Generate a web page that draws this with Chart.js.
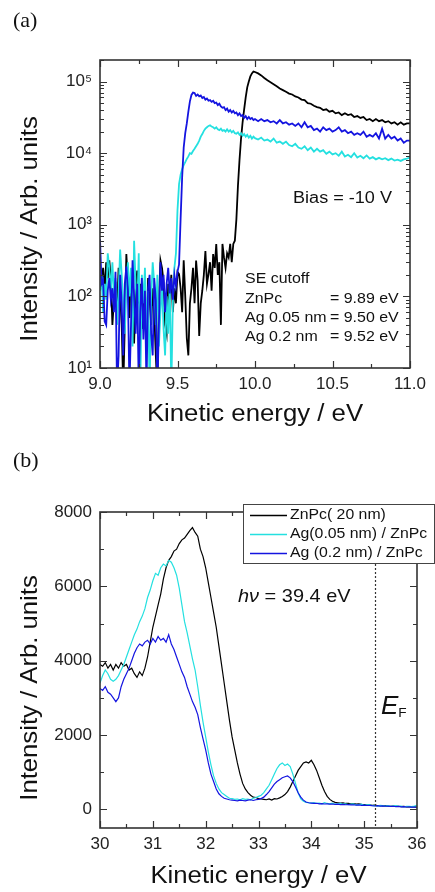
<!DOCTYPE html>
<html>
<head>
<meta charset="utf-8">
<script src="https://cdn.jsdelivr.net/npm/chart.js@4.4.1/dist/chart.umd.min.js"></script>
<style>
  body { margin: 0; background: #fff; }
  #wrap { position: relative; width: 435px; height: 892px; }
  canvas { position: absolute; left: 0; }
  #chartA { top: 0; }
  #chartB { top: 440px; }
</style>
</head>
<body>
<div id="wrap">
  <canvas id="chartA" width="435" height="440"></canvas>
  <canvas id="chartB" width="435" height="452"></canvas>
</div>
<script>
// ---- panel (a): SE cutoff, log intensity ----
var energyA = [
  9.00, 9.01, 9.02, 9.03, 9.04, 9.05, 9.06, 9.07, 9.08, 9.09,
  9.10, 9.11, 9.12, 9.13, 9.14, 9.15, 9.16, 9.17, 9.18, 9.19,
  9.20, 9.21, 9.22, 9.23, 9.24, 9.25, 9.26, 9.27, 9.28, 9.29,
  9.30, 9.31, 9.32, 9.33, 9.34, 9.35, 9.36, 9.37, 9.38, 9.39,
  9.40, 9.41, 9.42, 9.43, 9.44, 9.45, 9.46, 9.47, 9.48, 9.49,
  9.50, 9.51, 9.52, 9.53, 9.54, 9.55, 9.56, 9.57, 9.58, 9.59,
  9.60, 9.61, 9.62, 9.63, 9.64, 9.65, 9.66, 9.67, 9.68, 9.69,
  9.70, 9.71, 9.72, 9.73, 9.74, 9.75, 9.76, 9.77, 9.78, 9.79,
  9.80, 9.81, 9.82, 9.83, 9.84, 9.85, 9.86, 9.87, 9.88, 9.89,
  9.90, 9.91, 9.92, 9.93, 9.94, 9.95, 9.96, 9.97, 9.98, 9.99,
  10.00,
  10.02, 10.04, 10.06, 10.08, 10.10, 10.12, 10.14, 10.16, 10.18, 10.20,
  10.22, 10.24, 10.26, 10.28, 10.30, 10.32, 10.34, 10.36, 10.38, 10.40,
  10.42, 10.44, 10.46, 10.48, 10.50, 10.52, 10.54, 10.56, 10.58, 10.60,
  10.62, 10.64, 10.66, 10.68, 10.70, 10.72, 10.74, 10.76, 10.78, 10.80,
  10.82, 10.84, 10.86, 10.88, 10.90, 10.92, 10.94, 10.96, 10.98, 11.00
];
var znpcA = [
  200, 150, 250, 120, 300, 180, 320, 180, 40, 90,
  160, 60, 250, 100, 40, 5, 40, 390, 150, 50,
  200, 100, 22, 120, 230, 80, 150, 35, 60, 120,
  20, 180, 90, 40, 130, 60, 15, 5, 90, 320,
  250, 160, 40, 30, 150, 90, 200, 60, 130, 80,
  220, 205, 130, 60, 320, 100, 26, 15, 80, 130,
  250, 80, 316, 165, 28, 80, 120, 200, 430, 150,
  205, 300, 120, 390, 250, 540, 200, 300, 40, 540,
  350, 250, 400, 350, 540, 300, 540, 600, 1200, 3500,
  8000, 16000, 27000, 41000, 60000, 83000, 100000, 118000, 130000, 138000,
  136000,
  130000, 122000, 112000, 104000, 98000, 92000, 86000, 80000, 76000, 72000,
  68000, 66000, 62000, 60000, 56000, 55000, 50000, 49000, 46000, 44000,
  43000, 40000, 41000, 38000, 39000, 36000, 37000, 34000, 36000, 34000,
  35000, 32000, 33000, 31000, 32000, 29000, 30000, 28000, 30000, 28000,
  29000, 27000, 28000, 26000, 27000, 25000, 27000, 25000, 26000, 26000
];
var ag005A = [
  120, 200, 60, 150, 90, 400, 250, 120, 300, 100,
  180, 40, 120, 450, 200, 80, 30, 150, 300, 100,
  250, 20, 600, 150, 60, 400, 5, 200, 80, 250,
  30, 120, 5, 90, 300, 150, 40, 200, 20, 60,
  150, 35, 15, 100, 30, 150, 5, 80, 250, 400,
  1600, 3700, 5000, 6000, 6800, 7500, 8300, 9000, 10000, 9800,
  10700, 11500, 12500, 13500, 15000, 17000, 18500, 20500, 22000, 23000,
  24000, 24500, 23500, 23000, 22000, 23000, 21500, 21000, 22000, 20500,
  21000, 20000, 21500, 20000, 21000, 19500, 20500, 19000, 18700, 19500,
  18000, 19000, 17500, 18500, 17000, 18000, 16500, 17500, 16000, 17000,
  16200,
  15500, 16500, 15000, 15500, 14500, 16000, 14000, 14500, 13500, 14500,
  13000, 12500, 13500, 12000, 11500, 12500, 11000, 12000, 10500, 11500,
  10500, 11000, 9800, 10500, 9600, 10000, 9200, 10500, 9000, 9500,
  8800, 10000, 8700, 9200, 8500, 9300, 8400, 8800, 8200, 8600,
  8200, 8500, 8000, 8400, 7900, 8100, 7800, 8200, 8400, 8700
];
var ag02A = [
  630, 150, 170, 45, 40, 120, 180, 90, 130, 60,
  220, 5, 15, 200, 80, 15, 150, 260, 120, 5,
  40, 320, 100, 30, 150, 5, 60, 180, 25, 120,
  5, 130, 200, 30, 15, 180, 90, 5, 40, 300,
  120, 200, 60, 150, 250, 110, 180, 90, 200, 140,
  220, 280, 1200, 4600, 12000, 19000, 26000, 38000, 53000, 65000,
  70000, 69000, 63000, 66000, 62000, 64000, 59000, 61000, 56000, 58000,
  54000, 55000, 52000, 54000, 50000, 51000, 47000, 49000, 45000, 43000,
  44000, 40000, 42000, 38000, 40000, 37000, 39000, 36000, 37000, 34000,
  36000, 33000, 34000, 31000, 33000, 30000, 32000, 30000, 31000, 29000,
  30000,
  28000, 30000, 28000, 29000, 27000, 28000, 26000, 29000, 26000, 27000,
  25000, 26000, 24000, 26000, 23000, 27000, 23000, 24000, 21000, 22000,
  20000, 23000, 21000, 22000, 20000, 21000, 23000, 20000, 21000, 19000,
  20000, 18000, 19000, 18000, 20000, 17000, 18000, 17000, 19000, 16000,
  22000, 16000, 18000, 16000, 17000, 15000, 16000, 14000, 15000, 15000
];
var xTicksA = [9.0, 9.5, 10.0, 10.5, 11.0];
var yTicksA = [10, 100, 1000, 10000, 100000];
var cutoffLabels = ['ZnPc', 'Ag 0.05 nm', 'Ag 0.2 nm'];
var cutoffValues = ['= 9.89 eV', '= 9.50 eV', '= 9.52 eV'];

// ---- panel (b): valence band, linear intensity ----
var energyB = [
  30.00, 30.05, 30.10, 30.15, 30.20, 30.25, 30.30, 30.35, 30.40, 30.45,
  30.50, 30.55, 30.60, 30.65, 30.70, 30.75, 30.80, 30.85, 30.90, 30.95,
  31.00, 31.05, 31.10, 31.15, 31.20, 31.25, 31.30, 31.35, 31.40, 31.45,
  31.50, 31.55, 31.60, 31.65, 31.70, 31.75, 31.80, 31.85, 31.90, 31.95,
  32.00, 32.05, 32.10, 32.15, 32.20, 32.25, 32.30, 32.35, 32.40, 32.45,
  32.50, 32.55, 32.60, 32.65, 32.70, 32.75, 32.80, 32.85, 32.90, 32.95,
  33.00, 33.05, 33.10, 33.15, 33.20, 33.25, 33.30, 33.35, 33.40, 33.45,
  33.50, 33.55, 33.60, 33.65, 33.70, 33.75, 33.80, 33.85, 33.90, 33.95,
  34.00, 34.05, 34.10, 34.15, 34.20, 34.25, 34.30, 34.35, 34.40, 34.45,
  34.50, 34.55, 34.60, 34.65, 34.70, 34.75, 34.80, 34.85, 34.90, 34.95,
  35.00, 35.05, 35.10, 35.15, 35.20, 35.25, 35.30, 35.35, 35.40, 35.45,
  35.50, 35.55, 35.60, 35.65, 35.70, 35.75, 35.80, 35.85, 35.90, 35.95,
  36.00
];
var znpcB = [
  3900, 3850, 3950, 3800, 3900, 3750, 3900, 3800, 3950, 3850,
  3900, 3750, 3800, 3650, 3550, 3700, 3600, 3800, 4100, 4500,
  4900, 5200, 5500, 5800, 6200, 6500, 6700, 6800, 6950, 7000,
  7150, 7250, 7300, 7400, 7500, 7580, 7450, 7350, 7000, 6800,
  6500, 6100, 5700, 5300, 4900, 4400, 3900, 3400, 2900, 2400,
  1950, 1600, 1250, 950, 700, 550, 450, 380, 330, 320,
  290, 280, 270, 260, 280, 250, 290, 280, 310, 350,
  400, 480, 600, 750, 900, 1050, 1150, 1250, 1280, 1250,
  1320, 1200, 1050, 850, 650, 480, 350, 270, 220, 190,
  180, 170, 175, 160, 165, 150, 155, 140, 150, 135,
  130, 125, 120, 110, 115, 100, 105, 95, 100, 90,
  85, 90, 80, 85, 75, 80, 70, 75, 65, 70,
  60
];
var ag005B = [
  3400, 3600, 3750, 3650, 3500, 3450, 3500, 3600, 3750, 3900,
  4100, 4300, 4500, 4700, 4850, 5050, 5200, 5400, 5700, 5900,
  6150, 6350, 6300, 6500, 6600, 6550, 6700, 6650, 6500, 6300,
  5950, 5500, 5050, 4750, 4400, 4050, 3750, 3300, 2800, 2350,
  1950, 1550, 1200, 900, 700, 550, 450, 400, 350, 300,
  290, 270, 280, 260, 290, 270, 280, 260, 300, 320,
  350, 380, 450, 550, 650, 800, 950, 1100, 1200, 1250,
  1180, 1220, 1150, 950, 700, 450, 280, 220, 190, 180,
  170, 180, 160, 170, 150, 180, 160, 150, 170, 140,
  150, 160, 140, 150, 130, 140, 150, 120, 130, 140,
  110, 120, 130, 100, 110, 90, 110, 100, 90, 100,
  80, 90, 100, 80, 90, 70, 85, 80, 75, 90,
  110
];
var ag02B = [
  3250, 3200, 3300, 3150, 3100, 3000, 2900, 3000, 3300, 3500,
  3650, 3800, 4000, 4200, 4350, 4450, 4400, 4500, 4550, 4450,
  4600, 4500, 4650, 4550, 4600, 4500, 4700, 4450, 4300, 4100,
  3900, 3700, 3550, 3300, 3100, 2900, 2750, 2550, 2200, 1900,
  1600, 1250, 950, 750, 550, 420, 350, 300, 280, 260,
  250, 240, 230, 250, 240, 230, 250, 260, 240, 260,
  270, 290, 330, 400, 480, 580, 680, 750, 800, 850,
  880, 900, 850, 750, 600, 450, 330, 250, 200, 180,
  170, 160, 165, 150, 155, 145, 150, 140, 145, 135,
  140, 130, 135, 125, 130, 120, 125, 115, 120, 110,
  115, 105, 110, 100, 95, 100, 90, 95, 85, 90,
  80, 85, 75, 80, 70, 75, 65, 70, 60, 65,
  55
];
var xTicksB = [30, 31, 32, 33, 34, 35, 36];
var yTicksB = [0, 2000, 4000, 6000, 8000];
var seriesNamesB = ['ZnPc( 20 nm)', 'Ag(0.05 nm) / ZnPc', 'Ag (0.2 nm) / ZnPc'];
var fermiB = 35.2;

var colors = ['#000000', '#24e0e0', '#1414e0'];
var SANS = '"Liberation Sans", Arial, sans-serif';
var SX = 1.12;   // reference text looks a bit wide

function pts(xs, ys) {
  return xs.map(function (x, i) { return { x: x, y: ys[i] }; });
}

// text helper, optional rotation, horizontally stretched
function txt(ctx, s, x, y, size, opt) {
  opt = opt || {};
  ctx.save();
  ctx.font = (opt.italic ? 'italic ' : '') + size + 'px ' + (opt.family || SANS);
  ctx.fillStyle = opt.color || '#111';
  ctx.textBaseline = 'middle';
  ctx.textAlign = opt.align || 'left';
  ctx.translate(x, y);
  if (opt.rot) ctx.rotate(-Math.PI / 2);
  ctx.scale(opt.sx || SX, 1);
  ctx.fillText(s, 0, 0);
  var w = ctx.measureText(s).width * (opt.sx || SX);
  ctx.restore();
  return w;
}

function minorLinear(major) {
  var out = [];
  for (var i = 0; i < major.length - 1; i++) out.push((major[i] + major[i + 1]) / 2);
  return out;
}

function minorLog(major, max) {
  var out = [];
  major.forEach(function (d) {
    for (var m = 2; m <= 9; m++) if (m * d <= max) out.push(m * d);
  });
  return out;
}

function drawFrame(chart, xMaj, xMin, yMaj, yMin) {
  var ctx = chart.ctx, a = chart.chartArea;
  var sx = chart.scales.x, sy = chart.scales.y;
  ctx.save();
  ctx.strokeStyle = '#333';
  ctx.lineWidth = 1.2;
  ctx.beginPath();
  function xt(v, len) {
    var p = Math.round(sx.getPixelForValue(v)) + 0.5;
    ctx.moveTo(p, a.bottom); ctx.lineTo(p, a.bottom - len);
    ctx.moveTo(p, a.top); ctx.lineTo(p, a.top + len);
  }
  function yt(v, len) {
    var p = Math.round(sy.getPixelForValue(v)) + 0.5;
    ctx.moveTo(a.left, p); ctx.lineTo(a.left + len, p);
    ctx.moveTo(a.right, p); ctx.lineTo(a.right - len, p);
  }
  xMaj.forEach(function (v) { xt(v, 7); });
  xMin.forEach(function (v) { xt(v, 4); });
  yMaj.forEach(function (v) { yt(v, 7); });
  yMin.forEach(function (v) { yt(v, 4); });
  ctx.stroke();
  ctx.lineWidth = 1.6;
  ctx.strokeRect(a.left, a.top, a.right - a.left, a.bottom - a.top);
  ctx.restore();
}

// black at the bottom, blue on top
function lineSets(ys, width) {
  return ys.map(function (d, i) {
    return {
      label: seriesNamesB[i],
      data: d,
      borderColor: colors[i],
      borderWidth: width,
      pointRadius: 0,
      tension: 0,
      fill: false,
      order: 3 - i
    };
  });
}

var tickFont = { family: 'Liberation Sans', size: 17 };

// ---------------- chart (a) ----------------
new Chart(document.getElementById('chartA'), {
  type: 'line',
  data: {
    datasets: lineSets([pts(energyA, znpcA), pts(energyA, ag005A), pts(energyA, ag02A)], 1.8)
  },
  options: {
    responsive: false,
    animation: false,
    layout: { padding: { top: 60, right: 25, bottom: 0, left: 0 } },
    plugins: { legend: { display: false }, tooltip: { enabled: false } },
    scales: {
      x: {
        type: 'linear', min: 9, max: 11,
        afterBuildTicks: function (s) { s.ticks = xTicksA.map(function (v) { return { value: v }; }); },
        afterFit: function (s) { s.height = 72; },
        ticks: { font: tickFont, color: '#222', padding: 6, maxRotation: 0, autoSkip: false,
          callback: function (v) { return Number(v).toFixed(1); } },
        grid: { display: false, drawTicks: false },
        border: { display: false }
      },
      y: {
        type: 'logarithmic', min: 10, max: 200000,
        afterBuildTicks: function (s) { s.ticks = yTicksA.map(function (v) { return { value: v }; }); },
        afterFit: function (s) { s.width = 100; },
        ticks: { font: tickFont, color: '#222', padding: 8, autoSkip: false,
          callback: function (v) {
            var sup = ['\u2070', '\u00b9', '\u00b2', '\u00b3', '\u2074', '\u2075'];
            return '10' + sup[Math.round(Math.log10(v))];
          } },
        grid: { display: false, drawTicks: false },
        border: { display: false }
      }
    }
  },
  plugins: [{
    id: 'decorA',
    afterDraw: function (chart) {
      var ctx = chart.ctx, a = chart.chartArea;
      drawFrame(chart, xTicksA, minorLinear(xTicksA), yTicksA, minorLog(yTicksA, 200000));
      txt(ctx, '(a)', 13, 21, 22, { family: '"Liberation Serif", serif', sx: 1 });
      txt(ctx, 'Kinetic energy / eV', (a.left + a.right) / 2, 415, 23, { align: 'center' });
      txt(ctx, 'Intensity / Arb. units', 30, 229, 24, { align: 'center', rot: true, sx: 1.07 });
      txt(ctx, 'Bias = -10 V', 293, 199, 16, { sx: 1.13 });
      txt(ctx, 'SE cutoff', 245, 279, 14.5, { sx: 1.1 });
      cutoffLabels.forEach(function (s, i) {
        txt(ctx, s, 245, 299 + i * 19, 14.5, { sx: 1.1 });
        txt(ctx, cutoffValues[i], 330, 299 + i * 19, 14.5, { sx: 1.1 });
      });
    }
  }]
});

// ---------------- chart (b) ----------------
new Chart(document.getElementById('chartB'), {
  type: 'line',
  data: {
    datasets: lineSets([pts(energyB, znpcB), pts(energyB, ag005B), pts(energyB, ag02B)], 1.2)
  },
  options: {
    responsive: false,
    animation: false,
    layout: { padding: { top: 72, right: 18, bottom: 0, left: 0 } },
    plugins: { legend: { display: false }, tooltip: { enabled: false } },
    scales: {
      x: {
        type: 'linear', min: 30, max: 36,
        afterBuildTicks: function (s) { s.ticks = xTicksB.map(function (v) { return { value: v }; }); },
        afterFit: function (s) { s.height = 64; },
        ticks: { font: tickFont, color: '#222', padding: 6, maxRotation: 0, autoSkip: false,
          callback: function (v) { return String(v); } },
        grid: { display: false, drawTicks: false },
        border: { display: false }
      },
      y: {
        type: 'linear', min: -500, max: 8000,
        afterBuildTicks: function (s) { s.ticks = yTicksB.map(function (v) { return { value: v }; }); },
        afterFit: function (s) { s.width = 100; },
        ticks: { font: tickFont, color: '#222', padding: 8, autoSkip: false,
          callback: function (v) { return String(v); } },
        grid: { display: false, drawTicks: false },
        border: { display: false }
      }
    }
  },
  plugins: [{
    id: 'decorB',
    afterDraw: function (chart) {
      var ctx = chart.ctx, a = chart.chartArea;
      drawFrame(chart, xTicksB, minorLinear(xTicksB), yTicksB, minorLinear(yTicksB));

      // Fermi level
      var fx = Math.round(chart.scales.x.getPixelForValue(fermiB)) + 0.5;
      ctx.save();
      ctx.strokeStyle = '#333';
      ctx.lineWidth = 1.2;
      ctx.setLineDash([2, 2]);
      ctx.beginPath();
      ctx.moveTo(fx, a.top); ctx.lineTo(fx, a.bottom);
      ctx.stroke();
      ctx.restore();

      // legend box
      ctx.save();
      ctx.fillStyle = '#fff';
      ctx.fillRect(243, 64, 191, 60);
      ctx.strokeStyle = '#444';
      ctx.lineWidth = 1;
      ctx.strokeRect(243.5, 64.5, 191, 59);
      chart.data.datasets.forEach(function (ds, i) {
        var y = 75 + i * 19;
        ctx.strokeStyle = ds.borderColor;
        ctx.lineWidth = 1.5;
        ctx.beginPath();
        ctx.moveTo(250, y + 0.5); ctx.lineTo(287, y + 0.5);
        ctx.stroke();
        txt(ctx, ds.label, 290, y, 14, { sx: 1.13 });
      });
      ctx.restore();

      txt(ctx, '(b)', 13, 21, 22, { family: '"Liberation Serif", serif', sx: 1 });
      // h nu = 39.4 eV
      var x = 238;
      x += txt(ctx, 'h', x, 157, 19, { italic: true, sx: 1.05 });
      x += txt(ctx, '\u03bd', x, 157, 19, { italic: true, sx: 1.05 });
      txt(ctx, ' = 39.4 eV', x, 157, 19, { sx: 1.05 });
      // E_F
      var ew = txt(ctx, 'E', 381, 267, 26, { italic: true, sx: 1 });
      txt(ctx, 'F', 381 + ew, 273, 13, { sx: 1.05 });

      txt(ctx, 'Kinetic energy / eV', (a.left + a.right) / 2, 437, 23, { align: 'center' });
      txt(ctx, 'Intensity / Arb. units', 30, 248, 24, { align: 'center', rot: true, sx: 1.07 });
    }
  }]
});
</script>
</body>
</html>
